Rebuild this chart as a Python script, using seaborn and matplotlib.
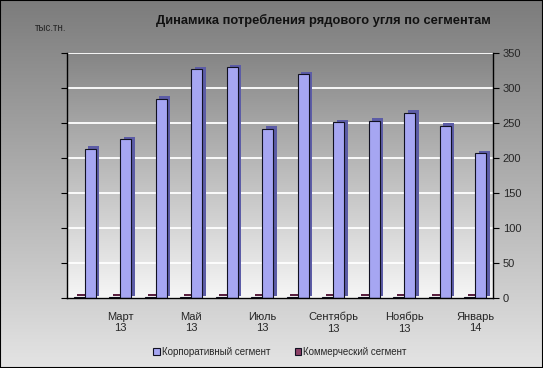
import numpy as np
import pandas as pd
import seaborn as sns
import matplotlib.pyplot as plt
from matplotlib import patheffects as pe
from matplotlib.colors import LinearSegmentedColormap

# Data (thousand tonnes)
months = ['Февраль\n13', 'Март\n13', 'Апрель\n13', 'Май\n13', 'Июнь\n13', 'Июль\n13',
          'Август\n13', 'Сентябрь\n13', 'Октябрь\n13', 'Ноябрь\n13', 'Декабрь\n13', 'Январь\n14']
corporate = [213, 227, 285, 327, 330, 242, 320, 251, 253, 265, 246, 207]
commercial = [1.5, 1.5, 1.5, 1.5, 1.5, 1.5, 1.5, 1.5, 1.5, 1.5, 1.5, 1.5]
corp_name = 'Корпоративный сегмент'
comm_name = 'Коммерческий сегмент'
y_ticks = [0, 50, 100, 150, 200, 250, 300, 350]

df = pd.DataFrame({
    'month': months * 2,
    'value': corporate + commercial,
    'segment': [corp_name] * 12 + [comm_name] * 12,
})

sns.set_style('white')
plt.rcParams['font.family'] = ['Liberation Sans', 'DejaVu Sans']

fig = plt.figure(figsize=(5.43, 3.68), dpi=100)

# gray gradient background for the whole figure
bg = fig.add_axes([0, 0, 1, 1], zorder=-10)
fig_cmap = LinearSegmentedColormap.from_list('figbg', ['#7c7c7c', '#e4e4e4'])
bg.imshow(np.linspace(0, 1, 256).reshape(-1, 1), aspect='auto', cmap=fig_cmap,
          extent=[0, 1, 0, 1])
bg.set_xticks([])
bg.set_yticks([])
for s in bg.spines.values():
    s.set_color('black')
    s.set_linewidth(1.5)

pos = [67 / 543, 70 / 368, (493 - 67) / 543, (315 - 70) / 368]

# plot area gradient
pa = fig.add_axes(pos, zorder=-5)
pa_cmap = LinearSegmentedColormap.from_list('pabg', ['#858585', '#f6f6f6'])
pa.imshow(np.linspace(0, 1, 256).reshape(-1, 1), aspect='auto', cmap=pa_cmap,
          extent=[0, 1, 0, 1])
pa.axis('off')

ax = fig.add_axes(pos)
ax.set_facecolor('none')
sns.barplot(data=df, x='month', y='value', hue='segment',
            hue_order=[comm_name, corp_name],
            palette={corp_name: '#9999ff', comm_name: '#993366'},
            width=0.62, edgecolor='#111122', linewidth=0.8, ax=ax)

# fake the 3D side face with a shadow
shade = {0: '#5a2040', 1: '#5c5ca6'}
for i, cont in enumerate(ax.containers):
    for p in cont:
        p.set_path_effects([pe.SimplePatchShadow(offset=(2.5, 1.8),
                                                 shadow_rgbFace=shade[i], alpha=1),
                            pe.Normal()])

ax.set_ylim(0, 350)
ax.set_xlim(-0.5, 11.5)
ax.set_yticks(y_ticks)
ax.yaxis.grid(True, color='white', linewidth=1.3)
ax.set_axisbelow(True)
ax.tick_params(axis='y', left=True, right=True, labelleft=False, labelright=True,
               direction='out', length=4, color='black', labelsize=8, pad=3)

ax.set_xticks(range(12))
ax.set_xticklabels([m if i % 2 == 1 else '' for i, m in enumerate(months)])
ax.set_xticks(np.arange(-0.5, 12, 1), minor=True)
ax.tick_params(axis='x', which='major', length=0, labelsize=8, pad=10)
ax.tick_params(axis='x', which='minor', length=4, direction='out', color='black')
ax.set_xlabel('')
ax.set_ylabel('')

for side in ['left', 'right', 'bottom']:
    ax.spines[side].set_visible(True)
    ax.spines[side].set_color('black')
    ax.spines[side].set_linewidth(1)
ax.spines['top'].set_visible(False)

handles, labels = ax.get_legend_handles_labels()
ax.get_legend().remove()
fig.legend(handles[::-1], labels[::-1], loc='center', bbox_to_anchor=(280 / 543, 1 - 352 / 368),
           ncol=2, frameon=False, fontsize=7, handlelength=0.7, handleheight=0.7,
           handletextpad=0.2, columnspacing=2.5)

fig.text(323 / 543, 1 - 20 / 368, 'Динамика потребления рядового угля по сегментам',
         ha='center', va='center', fontsize=9.3, weight='bold', color='#111111')
fig.text(35 / 543, 1 - 28 / 368, 'тыс.тн.', ha='left', va='center', fontsize=7)

fig.savefig('out.png', dpi=100)
